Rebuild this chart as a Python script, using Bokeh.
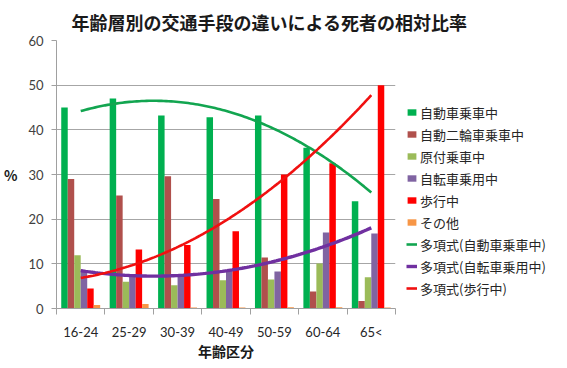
import numpy as np
from bokeh.plotting import figure
from bokeh.models import (ColumnDataSource, FixedTicker, Legend, LegendItem, Range1d, Title)
from bokeh.transform import dodge
from bokeh.embed import file_html
from bokeh.resources import INLINE

# ---- data ----
age_groups = ["16-24", "25-29", "30-39", "40-49", "50-59", "60-64", "65<"]
car = [45.0, 47.0, 43.2, 42.8, 43.2, 36.0, 24.0]          # 自動車乗車中
motorcycle = [29.0, 25.3, 29.6, 24.5, 11.4, 3.8, 1.7]     # 自動二輪車乗車中
moped = [11.9, 6.0, 5.2, 6.3, 6.5, 10.1, 7.0]             # 原付乗車中
bicycle = [8.5, 7.5, 7.5, 8.5, 8.3, 17.0, 16.8]           # 自転車乗用中
walking = [4.5, 13.2, 14.2, 17.3, 30.0, 32.5, 50.0]       # 歩行中
other = [0.8, 1.0, 0.2, 0.2, 0.3, 0.3, 0.2]               # その他
y_ticks = [0, 10, 20, 30, 40, 50, 60]

series_names = ["自動車乗車中", "自動二輪車乗車中", "原付乗車中", "自転車乗用中", "歩行中", "その他"]
series_vals = [car, motorcycle, moped, bicycle, walking, other]
series_colors = ["#00B050", "#B0504C", "#9BBB59", "#8064A2", "#FF0000", "#F79646"]

JP = "Noto Sans CJK JP"
NUM = "Lato"

xs = list(range(1, len(age_groups) + 1))
src = ColumnDataSource(dict(x=xs, **{f"s{i}": v for i, v in enumerate(series_vals)}))

p = figure(frame_width=339, frame_height=268, output_backend="svg", toolbar_location=None,
           x_range=Range1d(0.5, 7.5), y_range=Range1d(0, 60),
           min_border_left=48, min_border_right=160, min_border_top=31, min_border_bottom=53)
p.outline_line_color = None
p.background_fill_color = "white"
p.border_fill_color = "white"

bw = 0.134
offsets = [(-2.5 + i) * bw for i in range(6)]
bar_rs = []
for i, (nm, col) in enumerate(zip(series_names, series_colors)):
    r = p.vbar(x=dodge("x", offsets[i], range=p.x_range), top=f"s{i}", width=bw,
               source=src, fill_color=col, line_color=None)
    bar_rs.append(r)

# polynomial trendlines (order 2, as in the spreadsheet)
xx = np.linspace(1, 7, 120)
trend_defs = [("多項式(自動車乗車中)", car, "#12A550", 2.6),
              ("多項式(自転車乗用中)", bicycle, "#7030A0", 3.4),
              ("多項式(歩行中)", walking, "#F01010", 2.6)]
line_rs = []
for nm, vals, col, lw in trend_defs:
    coef = np.polyfit(xs, vals, 2)
    r = p.line(xx, np.polyval(coef, xx), line_color=col, line_width=lw)
    line_rs.append((nm, r))

# axes
p.yaxis.ticker = FixedTicker(ticks=y_ticks)
p.yaxis.axis_line_color = "#a0a0a0"
p.yaxis.major_tick_line_color = "#a0a0a0"
p.yaxis.major_tick_out = 5
p.yaxis.major_tick_in = 0
p.yaxis.minor_tick_line_color = None
p.yaxis.major_label_text_font = NUM
p.yaxis.major_label_text_font_size = "13px"
p.yaxis.major_label_text_color = "#404040"
p.yaxis.major_label_standoff = 8
p.yaxis.axis_label = "%"
p.yaxis.axis_label_orientation = "horizontal"
p.yaxis.axis_label_text_font = JP
p.yaxis.axis_label_text_font_style = "bold"
p.yaxis.axis_label_text_font_size = "14px"
p.yaxis.axis_label_text_color = "#1a1a1a"
p.yaxis.axis_label_standoff = 8

p.xaxis.ticker = FixedTicker(ticks=xs, minor_ticks=[x - 0.5 for x in xs] + [7.5])
p.xaxis.major_label_overrides = {x: lab for x, lab in zip(xs, age_groups)}
p.xaxis.axis_line_color = "#a0a0a0"
p.xaxis.major_tick_line_color = None
p.xaxis.major_tick_out = 0
p.xaxis.major_tick_in = 0
p.xaxis.minor_tick_line_color = "#a0a0a0"
p.xaxis.minor_tick_out = 6
p.xaxis.minor_tick_in = 0
p.xaxis.major_label_text_font = NUM
p.xaxis.major_label_text_font_size = "13px"
p.xaxis.major_label_text_color = "#262626"
p.xaxis.major_label_standoff = 9
p.xaxis.axis_label = "年齢区分"
p.xaxis.axis_label_text_font = JP
p.xaxis.axis_label_text_font_style = "bold"
p.xaxis.axis_label_text_font_size = "14px"
p.xaxis.axis_label_text_color = "#1a1a1a"
p.xaxis.axis_label_standoff = -2

p.xgrid.grid_line_color = None
p.ygrid.ticker = FixedTicker(ticks=y_ticks)
p.ygrid.grid_line_color = "#a6a6a6"
p.ygrid.grid_line_width = 1

# title
t = Title(text="年齢層別の交通手段の違いによる死者の相対比率", align="left", offset=15,
          text_font=JP, text_font_size="18px", text_font_style="bold", text_color="#1a1a1a",
          standoff=12)
p.add_layout(t, "above")

# legend
items = [LegendItem(label=nm, renderers=[r]) for nm, r in zip(series_names, bar_rs)]
items += [LegendItem(label=nm, renderers=[r]) for nm, r in line_rs]
legend = Legend(items=items, location=(11, 9), padding=0, margin=0,
                border_line_color=None, background_fill_alpha=0,
                glyph_width=11, glyph_height=8, label_height=22, spacing=0,
                label_standoff=3, label_text_font=JP, label_text_font_size="13px",
                label_text_color="#262626")
p.add_layout(legend, "right")

open("out.html", "w").write(file_html(p, INLINE))
